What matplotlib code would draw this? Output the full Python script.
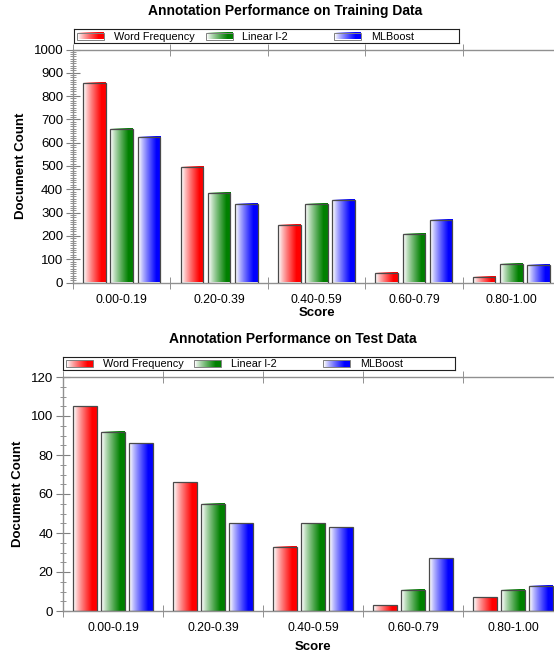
# Grouped bar charts of annotation performance on training and test data
import numpy as np
import matplotlib.pyplot as plt
from matplotlib.colors import to_rgb
from matplotlib.patches import Rectangle
from matplotlib.ticker import MultipleLocator

plt.rcParams["font.family"] = ["Liberation Sans", "DejaVu Sans"]

# Data
categories = ["0.00-0.19", "0.20-0.39", "0.40-0.59", "0.60-0.79", "0.80-1.00"]
series_names = ["Word Frequency", "Linear l-2", "MLBoost"]
series_colors = ["#ff0000", "#008000", "#0000ff"]

train_word = [858, 496, 247, 39, 22]
train_linear = [658, 382, 339, 207, 80]
train_mlboost = [624, 339, 353, 270, 77]

test_word = [105, 66, 33, 3, 7]
test_linear = [92, 55, 45, 11, 11]
test_mlboost = [86, 45, 43, 27, 13]

FIG_W, FIG_H = 554, 653


def gradient_image(color, n=64):
    """Horizontal ramp from almost white (left) to the full colour (right)."""
    c = np.array(to_rgb(color))
    t = np.clip(np.linspace(-0.05, 1.25, n), 0, 1) ** 0.85
    start = np.array([0.99, 0.99, 0.99])
    rows = start[None, :] * (1 - t[:, None]) + c[None, :] * t[:, None]
    return rows[None, :, :]


def px_box(x0, y0, x1, y1):
    """Convert a pixel box (top-left origin) to figure fraction [l, b, w, h]."""
    return [x0 / FIG_W, 1 - y1 / FIG_H, (x1 - x0) / FIG_W, (y1 - y0) / FIG_H]


def draw_panel(fig, rect, values, ymax, major, minor, title, title_x, title_y,
               legend_box, xlabelpad=1):
    ax = fig.add_axes(rect)
    x = np.arange(len(categories))
    width = 0.232
    offset = 0.28

    for i, (vals, color) in enumerate(zip(values, series_colors)):
        bars = ax.bar(
            x + (i - 1) * offset,
            vals,
            width,
            facecolor="none",
            edgecolor="#4a4a4a",
            linewidth=0.9,
            zorder=3,
        )
        img = gradient_image(color)
        for b in bars:
            bx, by = b.get_x(), b.get_y()
            bw, bh = b.get_width(), b.get_height()
            ax.imshow(
                img,
                extent=(bx, bx + bw, by, by + bh),
                aspect="auto",
                interpolation="bilinear",
                zorder=2,
            )

    ax.set_xlim(-0.5, len(categories) - 0.5)
    ax.set_ylim(0, ymax)

    # Category labels at centres, tick marks at category boundaries
    ax.set_xticks(x)
    ax.set_xticklabels(categories, fontsize=8.8)
    ax.tick_params(axis="x", which="major", length=0, pad=8)
    ax.set_xticks(np.arange(len(categories) + 1) - 0.5, minor=True)
    ax.tick_params(axis="x", which="minor", direction="inout", length=9,
                   color="#808080", top=True)

    ax.yaxis.set_major_locator(MultipleLocator(major))
    ax.yaxis.set_minor_locator(MultipleLocator(minor))
    ax.tick_params(axis="y", which="major", direction="inout", length=10,
                   color="#808080", labelsize=9.5, pad=2)
    ax.tick_params(axis="y", which="minor", direction="inout", length=5,
                   color="#808080")

    for side in ["left", "bottom", "top"]:
        ax.spines[side].set_color("#909090")
        ax.spines[side].set_linewidth(1.0)
    ax.spines["right"].set_visible(False)

    ax.set_xlabel("Score", fontsize=9.5, fontweight="bold", labelpad=xlabelpad)
    ax.set_ylabel("Document Count", fontsize=9.5, fontweight="bold", labelpad=5)
    fig.text(title_x / FIG_W, 1 - title_y / FIG_H, title, ha="center", va="center",
             fontsize=10, fontweight="bold")

    # Legend drawn by hand: framed box with gradient swatches
    lx0, ly0, lx1, ly1 = legend_box
    lax = fig.add_axes(px_box(lx0, ly0, lx1, ly1))
    lax.set_xticks([])
    lax.set_yticks([])
    for s in lax.spines.values():
        s.set_color("#202020")
        s.set_linewidth(0.8)
    ymid = (ly0 + ly1) / 2
    for j, (name, color) in enumerate(zip(series_names, series_colors)):
        sx = lx0 + 3 + j * 128.5
        lax.imshow(gradient_image(color), extent=(sx, sx + 27, ymid + 3.5, ymid - 3.5),
                   aspect="auto", interpolation="bilinear")
        lax.add_patch(Rectangle((sx, ymid - 3.5), 27, 7, facecolor="none",
                                edgecolor="#808080", linewidth=0.7))
        lax.text(sx + 37, ymid + 0.5, name, ha="left", va="center", fontsize=7.8)
    lax.set_xlim(lx0, lx1)
    lax.set_ylim(ly1, ly0)
    return ax


fig = plt.figure(figsize=(FIG_W / 100, FIG_H / 100), dpi=100)

draw_panel(
    fig, px_box(73, 49.5, 560, 282.5),
    [train_word, train_linear, train_mlboost],
    1000, 100, 10,
    "Annotation Performance on Training Data", 285, 11,
    (74, 29, 459, 43),
)
draw_panel(
    fig, px_box(63, 377, 563, 611),
    [test_word, test_linear, test_mlboost],
    120, 20, 5,
    "Annotation Performance on Test Data", 293, 339,
    (63, 357, 455, 370),
    xlabelpad=5,
)

fig.savefig("out.png", dpi=100)
